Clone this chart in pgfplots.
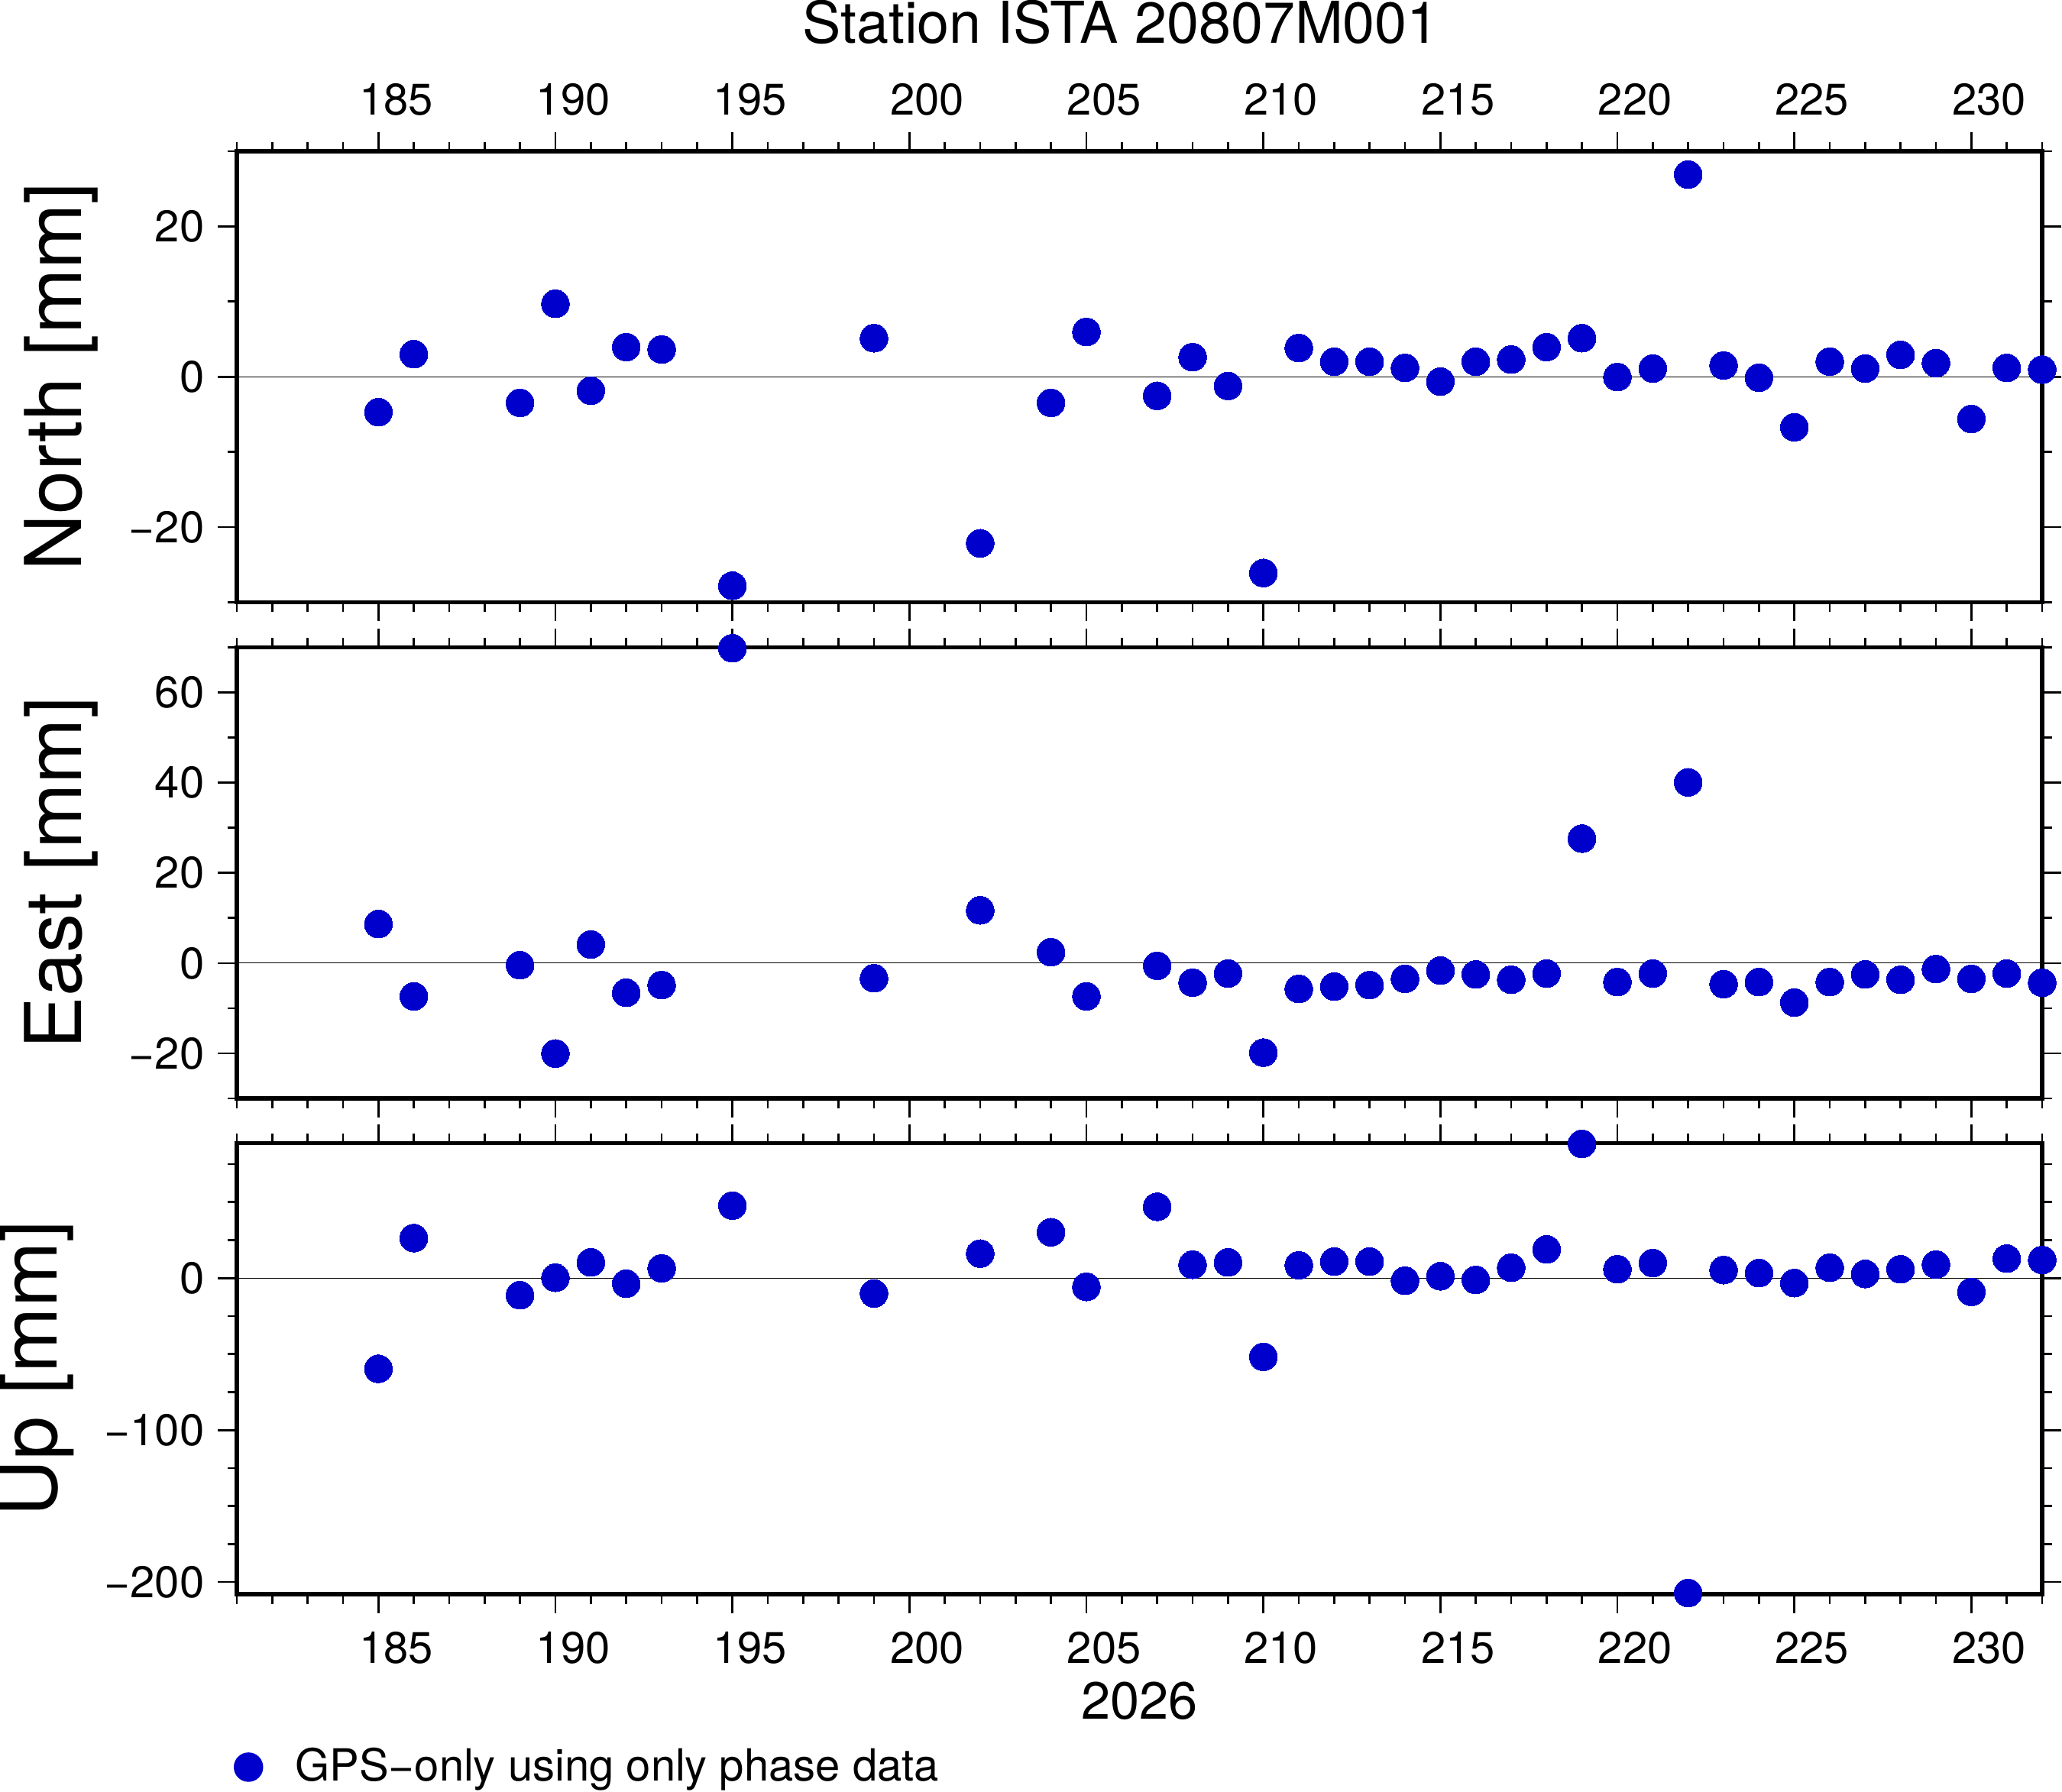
\documentclass[border=0pt]{standalone}
\usepackage{fontspec}
\setmainfont{TeX Gyre Heros}
\usepackage{pgfplots}
\pgfplotsset{compat=1.18}
\usepackage{pgfplotstable}
\definecolor{gpsblue}{RGB}{0,0,204}

\pgfplotstableread{
day val
185 -4.70
186 3.00
189 -3.47
190 9.71
191 -1.86
192 3.95
193 3.63
195 -27.8
199 5.13
202 -22.15
204 -3.47
205 5.96
207 -2.53
208 2.61
209 -1.22
210 -26.1
211 3.83
212 2.01
213 2.01
214 1.18
215 -0.63
216 2.01
217 2.29
218 3.95
219 5.13
220 -0.04
221 1.10
222 26.9
223 1.50
224 -0.12
225 -6.71
226 2.01
227 1.10
228 2.92
229 1.82
230 -5.61
231 1.18
232 0.95
}\northdata

\pgfplotstableread{
day val
185 8.67
186 -7.36
189 -0.46
190 -20.04
191 4.14
192 -6.57
193 -4.86
195 69.8
199 -3.35
202 11.7
204 2.43
205 -7.36
207 -0.59
208 -4.34
209 -2.30
210 -19.84
211 -5.72
212 -5.19
213 -4.86
214 -3.48
215 -1.64
216 -2.50
217 -3.68
218 -2.30
219 27.6
220 -4.20
221 -2.30
222 40.08
223 -4.66
224 -4.20
225 -8.74
226 -4.20
227 -2.50
228 -3.68
229 -1.31
230 -3.48
231 -2.30
232 -4.34
}\eastdata

\pgfplotstableread{
day val
185 -59.7
186 26.3
189 -11.3
190 0.2
191 10.3
192 -3.7
193 6.4
195 47.7
199 -10.1
202 16.1
204 30.2
205 -5.8
207 46.9
208 8.75
209 10.3
210 -51.8
211 8.4
212 10.9
213 10.9
214 -1.75
215 1.2
216 -1.2
217 6.8
218 18.9
219 88.3
220 5.8
221 9.9
222 -207.2
223 5.25
224 3.3
225 -3.3
226 6.8
227 2.7
228 5.8
229 8.9
230 -9.1
231 12.8
232 11.9
}\updata

\newcommand\tfont{\fontsize{11.6}{13.9}\selectfont}
\newcommand\lfont{\fontsize{20.5}{24}\selectfont}

\pgfplotsset{gpspanel/.style={
  scale only axis, width=472.6pt, height=118.1pt,
  xmin=181, xmax=232,
  xtick={185,190,...,230},
  minor xtick={181,...,232},
  xtick pos=both, ytick pos=both,
  tick align=outside,
  major tick length=5pt, minor tick length=2.5pt,
  every tick/.style={black, line width=0.55pt},
  axis line style={line width=1.1pt},
  clip=false,
  tick label style={font=\tfont},
  ylabel style={font=\lfont, rotate=0, anchor=base},
},
gpsmarks/.style={only marks, color=gpsblue, mark=*, mark size=3.65pt,
  mark options={solid, fill=gpsblue, draw=gpsblue, line width=0pt}},
zeroline/.style={black, line width=0.2pt, forget plot}
}

\begin{document}
\begin{tikzpicture}
\path[use as bounding box] (0pt,0pt) rectangle (539.8pt,-469pt);

\node[font=\fontsize{15.1}{18}\selectfont, anchor=base] at (293.4pt,-11.34pt) {Station ISTA 20807M001};

% North
\begin{axis}[gpspanel, at={(62pt,-39.6pt)}, anchor=north west,
  ymin=-30, ymax=30, ytick={-20,0,20}, minor ytick={-30,-10,10,30},
  yticklabels={−20,0,20},
  xticklabel pos=upper,
  xticklabels={185,190,195,200,205,210,215,220,225,230},
  xticklabel style={xshift=4.63pt, yshift=0.7pt},
  ylabel={North [mm]},
  ylabel style={at={(axis description cs:-0.08625,0.5)}},
]
\addplot[zeroline] coordinates {(181,0) (232,0)};
\addplot[gpsmarks] table[x=day,y=val] {\northdata};
\end{axis}

% East
\begin{axis}[gpspanel, at={(62pt,-169.5pt)}, anchor=north west,
  ymin=-30, ymax=70, ytick={-20,0,20,40,60}, minor ytick={-30,-10,10,30,50,70},
  yticklabels={−20,0,20,40,60},
  xticklabels={},
  ylabel={East [mm]},
  ylabel style={at={(axis description cs:-0.08625,0.5)}},
]
\addplot[zeroline] coordinates {(181,0) (232,0)};
\addplot[gpsmarks] table[x=day,y=val] {\eastdata};
\end{axis}

% Up
\begin{axis}[gpspanel, at={(62pt,-299.3pt)}, anchor=north west,
  ymin=-208, ymax=88.8, ytick={-200,-100,0}, minor ytick={-175,-150,-125,-75,-50,-25,25,50,75},
  yticklabels={−200,−100,0},
  xticklabel pos=lower,
  xticklabels={185,190,195,200,205,210,215,220,225,230},
  xticklabel style={xshift=4.63pt, yshift=-1.4pt},
  ylabel={Up [mm]},
  ylabel style={at={(axis description cs:-0.09962,0.5)}},
  xlabel={2026},
  xlabel style={font=\fontsize{13.7}{16}\selectfont, at={(axis description cs:0.5,0)}, anchor=base, yshift=-32.6pt},
  legend style={draw=none, fill=none, font=\tfont, at={(axis description cs:0,0)}, anchor=north west, xshift=-4pt, yshift=-36pt,
    /tikz/every odd column/.append style={column sep=6.4pt}},
  legend image code/.code={\fill[gpsblue] (0pt,0pt) circle (3.65pt);},
]
\addplot[zeroline] coordinates {(181,0) (232,0)};
\addplot[gpsmarks] table[x=day,y=val] {\updata};
\addlegendentry{GPS−only using only phase data}
\end{axis}
\end{tikzpicture}
\end{document}
